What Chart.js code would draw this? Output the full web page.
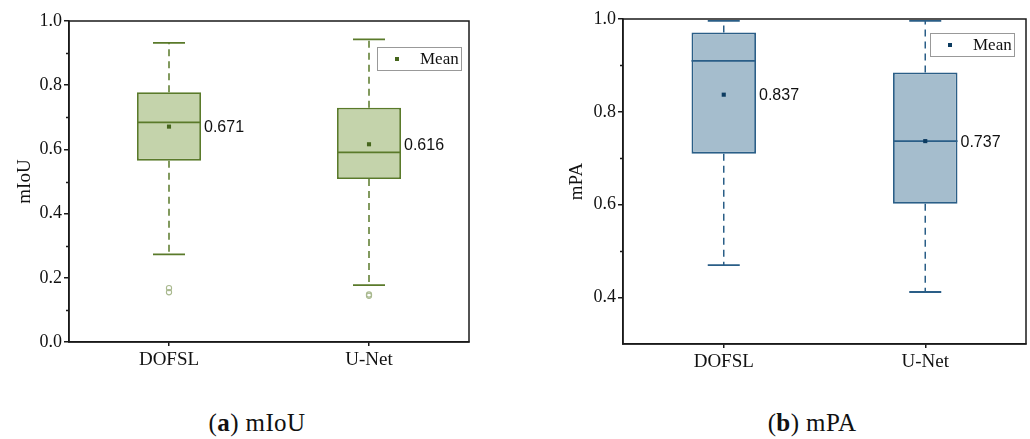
<!DOCTYPE html>
<html>
<head>
<meta charset="utf-8">
<title>mIoU / mPA box plots</title>
<script src="https://cdn.jsdelivr.net/npm/chart.js@4/dist/chart.umd.min.js"></script>
<style>
  html, body { margin: 0; padding: 0; background: #fff; }
  body { width: 1030px; height: 439px; position: relative; overflow: hidden; }
  canvas { position: absolute; top: 0; }
  #c-iou { left: 0; }
  #c-pa { left: 540px; }
  .caption {
    position: absolute; top: 409px; transform: translateX(-50%);
    font-family: 'Liberation Serif', serif; font-size: 25px; color: #111;
    white-space: nowrap; letter-spacing: 0.4px;
  }
</style>
</head>
<body>
<canvas id="c-iou" width="515" height="380"></canvas>
<canvas id="c-pa" width="490" height="380"></canvas>
<div class="caption" style="left:257px">(<b>a</b>) mIoU</div>
<div class="caption" style="left:812px">(<b>b</b>) mPA</div>

<script>
// ——— DATA ———
const categories = ['DOFSL', 'U-Net'];

// (a) mIoU
const iouMin    = [0.273, 0.177];
const iouQ1     = [0.565, 0.508];
const iouMedian = [0.684, 0.591];
const iouQ3     = [0.778, 0.730];
const iouMax    = [0.932, 0.943];
const iouMean   = [0.671, 0.616];
const iouOutliers = [[0.168, 0.155], [0.148, 0.144]];
const iouTicks  = [0.0, 0.2, 0.4, 0.6, 0.8, 1.0];
const iouMinor  = [0.1, 0.3, 0.5, 0.7, 0.9];

// (b) mPA
const paMin    = [0.470, 0.412];
const paQ1     = [0.710, 0.602];
const paMedian = [0.910, 0.737];
const paQ3     = [0.971, 0.885];
const paMax    = [0.996, 0.996];
const paMean   = [0.837, 0.737];
const paOutliers = [[], []];
const paTicks  = [0.4, 0.6, 0.8, 1.0];
const paMinor  = [0.5, 0.7, 0.9];

const SERIF = "'Liberation Serif', 'Times New Roman', serif";
const SANS = "'Liberation Sans', Arial, sans-serif";
const INK = '#1a1a1a';

// ——— BOX PLOT PIECES (whiskers, median, labels, legend, frame) ———
const boxParts = {
  id: 'boxParts',
  beforeDatasetsDraw(chart, args, o) {
    const { ctx, scales: { x, y } } = chart;
    ctx.save();
    ctx.strokeStyle = o.line;
    categories.forEach((c, i) => {
      const px = x.getPixelForValue(i);
      ctx.lineWidth = 1.5;
      ctx.setLineDash([7, 5]);
      ctx.beginPath();
      ctx.moveTo(px, y.getPixelForValue(o.q3[i]));
      ctx.lineTo(px, y.getPixelForValue(o.max[i]));
      ctx.moveTo(px, y.getPixelForValue(o.q1[i]));
      ctx.lineTo(px, y.getPixelForValue(o.min[i]));
      ctx.stroke();
      ctx.setLineDash([]);
      ctx.lineWidth = 1.8;
      ctx.beginPath();
      [o.max[i], o.min[i]].forEach(v => {
        const py = y.getPixelForValue(v);
        ctx.moveTo(px - 16, py);
        ctx.lineTo(px + 16, py);
      });
      ctx.stroke();
    });
    ctx.restore();
  },
  afterDatasetDraw(chart, args, o) {
    if (args.index !== 0) return;
    const { ctx, scales: { y } } = chart;
    const bars = chart.getDatasetMeta(0).data;
    ctx.save();
    ctx.strokeStyle = o.line;
    ctx.lineWidth = 1.8;
    bars.forEach((b, i) => {
      const py = y.getPixelForValue(o.median[i]);
      ctx.beginPath();
      ctx.moveTo(b.x - b.width / 2, py);
      ctx.lineTo(b.x + b.width / 2, py);
      ctx.stroke();
    });
    ctx.restore();
  },
  afterDraw(chart, args, o) {
    const { ctx, chartArea: a, scales: { y } } = chart;
    const bars = chart.getDatasetMeta(0).data;
    ctx.save();
    // mean labels
    ctx.fillStyle = '#111';
    ctx.font = '16px ' + SANS;
    ctx.textAlign = 'left';
    ctx.textBaseline = 'middle';
    bars.forEach((b, i) => {
      ctx.fillText(o.mean[i].toFixed(3), b.x + b.width / 2 + 3, y.getPixelForValue(o.mean[i]) + 1);
    });
    // frame
    ctx.strokeStyle = INK;
    ctx.lineWidth = 1.5;
    ctx.strokeRect(a.left, a.top, a.right - a.left, a.bottom - a.top);
    // minor ticks
    ctx.beginPath();
    o.minor.forEach(v => {
      const py = Math.round(y.getPixelForValue(v)) + 0.5;
      ctx.moveTo(a.left, py);
      ctx.lineTo(a.left - 3, py);
    });
    ctx.stroke();
    // legend
    const lx = a.right - o.legRight - 84, ly = a.top + o.legTop;
    ctx.strokeStyle = '#999';
    ctx.lineWidth = 1;
    ctx.strokeRect(lx + 0.5, ly + 0.5, 84, 23);
    ctx.fillStyle = o.dot;
    ctx.fillRect(lx + 18, ly + 10, 4, 4);
    ctx.fillStyle = '#111';
    ctx.font = '17px ' + SERIF;
    ctx.fillText('Mean', lx + 43, ly + 12.5);
    ctx.restore();
  }
};

function makeBoxChart(id, d) {
  return new Chart(document.getElementById(id), {
    type: 'bar',
    data: {
      labels: categories,
      datasets: [
        {
          type: 'bar',
          data: categories.map((c, i) => [d.q1[i], d.q3[i]]),
          backgroundColor: d.fill,
          borderColor: d.line,
          borderWidth: 1.8,
          borderSkipped: false,
          barPercentage: 0.32,
          categoryPercentage: 1,
          order: 2
        },
        {
          type: 'line',
          data: d.outliers.flatMap((vals, i) => vals.map(v => ({ x: categories[i], y: v }))),
          showLine: false,
          pointStyle: 'circle',
          pointRadius: 2.6,
          pointBorderWidth: 1.1,
          pointBackgroundColor: 'rgba(255,255,255,0)',
          pointBorderColor: d.outlier,
          order: 1
        },
        {
          type: 'line',
          data: categories.map((c, i) => ({ x: c, y: d.mean[i] })),
          showLine: false,
          pointStyle: 'rect',
          pointRadius: 2.9,
          pointBorderWidth: 0,
          pointBackgroundColor: d.dot,
          order: 0
        }
      ]
    },
    options: {
      responsive: false,
      animation: false,
      devicePixelRatio: 1,
      layout: { padding: { left: 0, right: d.padRight, top: d.padTop, bottom: 0 } },
      plugins: {
        legend: { display: false },
        tooltip: { enabled: false },
        boxParts: d
      },
      scales: {
        x: {
          offset: true,
          afterFit: s => { s.height = d.xHeight; },
          grid: { drawOnChartArea: false, offset: false, tickLength: 4, color: INK, lineWidth: 1.5 },
          border: { color: INK, width: 1.5 },
          ticks: { font: { family: SERIF, size: 19 }, color: '#111', padding: 3 }
        },
        y: {
          min: d.yMin, max: d.yMax,
          afterBuildTicks: s => { s.ticks = d.ticks.map(v => ({ value: v })); },
          afterFit: s => { s.width = d.yWidth; },
          grid: { drawOnChartArea: false, tickLength: 5, color: INK, lineWidth: 1.5 },
          border: { color: INK, width: 1.5 },
          ticks: { font: { family: SERIF, size: 18 }, color: '#111', padding: 2, callback: v => v.toFixed(1) },
          title: { display: true, text: d.title, color: '#111', font: { family: SERIF, size: 19 }, padding: { top: d.titlePad, bottom: 0 } }
        }
      }
    },
    plugins: [boxParts]
  });
}

makeBoxChart('c-iou', {
  min: iouMin, q1: iouQ1, median: iouMedian, q3: iouQ3, max: iouMax, mean: iouMean,
  outliers: iouOutliers, ticks: iouTicks, minor: iouMinor,
  yMin: 0, yMax: 1, title: 'mIoU',
  fill: '#c4d3ab', line: '#5a7a2a', dot: '#46661c', outlier: '#a9b98f',
  padTop: 21, padRight: 46, yWidth: 69, xHeight: 38, titlePad: 14,
  legRight: 8, legTop: 26
});

makeBoxChart('c-pa', {
  min: paMin, q1: paQ1, median: paMedian, q3: paQ3, max: paMax, mean: paMean,
  outliers: paOutliers, ticks: paTicks, minor: paMinor,
  yMin: 0.3, yMax: 1, title: 'mPA',
  fill: '#a5bdcd', line: '#2a5e87', dot: '#0c3b60', outlier: '#7f9fb8',
  padTop: 19, padRight: 3, yWidth: 83, xHeight: 36, titlePad: 26,
  legRight: 12, legTop: 14
});
</script>
</body>
</html>
